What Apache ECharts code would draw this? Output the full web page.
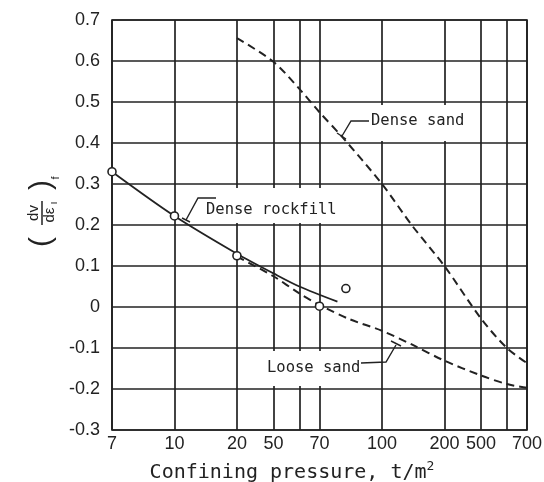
<!DOCTYPE html>
<html>
<head>
<meta charset="utf-8">
<script src="https://cdn.jsdelivr.net/npm/echarts@6/dist/echarts.min.js"></script>
<style>
  html, body { margin: 0; padding: 0; background: #fff; }
  #chart { width: 544px; height: 482px; }
</style>
</head>
<body>
<div id="chart"></div>
<script>
// pressure grid (t/m2) and the labels printed under them
const gridPressures = [5, 10, 20, 30, 40, 50, 100, 200, 300, 400, 500];
const labelPressures = [5, 10, 20, 30, 50, 100, 200, 300, 500];
const labelTexts = ["7", "10", "20", "50", "70", "100", "200", "500", "700"];

// measured points (dense rockfill)
const rockfillPoints = [[5, 0.33], [10, 0.222], [20, 0.125], [50, 0.002], [67, 0.045]];
// fitted curves
const rockfillCurve = [[5, 0.33], [10, 0.222], [20, 0.13], [30, 0.082], [40, 0.05], [61, 0.013]];
const looseSand = [[20, 0.123], [30, 0.075], [40, 0.033], [50, 0.005], [70, -0.03], [100, -0.058],
  [140, -0.092], [200, -0.131], [300, -0.167], [400, -0.188], [500, -0.197]];
const denseSand = [[20, 0.656], [30, 0.598], [40, 0.532], [50, 0.475], [64, 0.416], [100, 0.3],
  [140, 0.198], [200, 0.1], [300, -0.028], [400, -0.1], [500, -0.137]];

const ink = "#222";
const mono = "'DejaVu Sans Mono', monospace";
const sans = "'Liberation Sans', Arial, sans-serif";

const chart = echarts.init(document.getElementById("chart"));

const option = {
  animation: false,
  grid: {
    left: 112, right: 17, top: 20, bottom: 52,
    containLabel: false, outerBoundsMode: "none",
    show: true, borderColor: ink, borderWidth: 1.7
  },
  xAxis: {
    type: "log",
    logBase: 10,
    min: 5,
    max: 500,
    axisLine: { show: false },
    axisTick: { show: false, customValues: gridPressures },
    splitLine: { show: true, lineStyle: { color: ink, width: 1.7 } },
    axisLabel: {
      customValues: labelPressures,
      color: ink,
      fontFamily: sans,
      fontSize: 18,
      margin: 5,
      formatter: (v) => {
        const i = labelPressures.findIndex((p) => Math.abs(p - v) / p < 0.01);
        return i >= 0 ? labelTexts[i] : "";
      }
    },
    name: "Confining pressure, t/m{sup|2}",
    nameLocation: "middle",
    nameGap: 30,
    nameTextStyle: {
      color: ink, fontFamily: mono, fontSize: 20, padding: [0, 0, 0, -55],
      rich: { sup: { fontFamily: mono, fontSize: 13, verticalAlign: "top", padding: [0, 0, 12, 0], color: ink } }
    }
  },
  yAxis: {
    type: "value",
    min: -0.3,
    max: 0.7,
    interval: 0.1,
    axisLine: { show: false },
    axisTick: { show: false },
    splitLine: { show: true, lineStyle: { color: ink, width: 1.7 } },
    axisLabel: {
      color: ink,
      fontFamily: sans,
      fontSize: 18,
      margin: 12,
      formatter: (v) => (Math.abs(v) < 1e-9 ? "0" : v.toFixed(1))
    }
  },
  series: [
    {
      type: "line",
      data: rockfillCurve,
      smooth: 0.3,
      symbol: "none",
      lineStyle: { color: ink, width: 1.8 }
    },
    {
      type: "line",
      data: looseSand,
      smooth: 0.3,
      symbol: "none",
      lineStyle: { color: ink, width: 2, type: [8, 5] }
    },
    {
      type: "line",
      data: denseSand,
      smooth: 0.3,
      symbol: "none",
      lineStyle: { color: ink, width: 2, type: [8, 5] }
    },
    {
      type: "scatter",
      data: rockfillPoints,
      symbol: "circle",
      symbolSize: 8,
      itemStyle: { color: "#fff", borderColor: ink, borderWidth: 1.6, opacity: 1 },
      z: 5
    }
  ],
  graphic: [
    // y-axis title: (dv / dε1)f, rotated
    {
      type: "group",
      x: 42, y: 213, rotation: Math.PI / 2,
      children: [
        { type: "text", style: { text: "(", x: -29, y: 0, font: "30px " + sans, fill: ink, align: "center", verticalAlign: "middle" } },
        { type: "text", style: { text: "dv", x: 0, y: -8, font: "15px " + sans, fill: ink, align: "center", verticalAlign: "middle" } },
        { type: "line", shape: { x1: -12, y1: 0, x2: 12, y2: 0 }, style: { stroke: ink, lineWidth: 1.5 } },
        { type: "text", style: { text: "dε", x: -2, y: 8, font: "15px " + sans, fill: ink, align: "center", verticalAlign: "middle" } },
        { type: "text", style: { text: "ı", x: 10, y: 12, font: "11px " + sans, fill: ink, align: "center", verticalAlign: "middle" } },
        { type: "text", style: { text: ")", x: 28, y: 0, font: "30px " + sans, fill: ink, align: "center", verticalAlign: "middle" } },
        { type: "text", style: { text: "f", x: 35, y: 14, font: "11px " + sans, fill: ink, align: "center", verticalAlign: "middle" } }
      ]
    },
    // label boxes that mask the vertical grid lines
    { type: "rect", shape: { x: 200, y: 188, width: 140, height: 35 }, style: { fill: "#fff" }, z: 50 },
    { type: "rect", shape: { x: 366, y: 105, width: 112, height: 36 }, style: { fill: "#fff" }, z: 50 },
    { type: "rect", shape: { x: 262, y: 351, width: 116, height: 35 }, style: { fill: "#fff" }, z: 50 },
    { type: "text", z: 51, style: { text: "Dense rockfill", x: 206, y: 210, font: "15.5px " + mono, fill: ink, verticalAlign: "middle" } },
    { type: "text", z: 51, style: { text: "Dense sand", x: 371, y: 121, font: "15.5px " + mono, fill: ink, verticalAlign: "middle" } },
    { type: "text", z: 51, style: { text: "Loose sand", x: 267, y: 368, font: "15.5px " + mono, fill: ink, verticalAlign: "middle" } },
    // leaders
    { type: "polyline", z: 51, shape: { points: [[216, 198], [198, 198], [186, 220]] }, style: { stroke: ink, lineWidth: 1.4, fill: null } },
    { type: "line", z: 51, shape: { x1: 182, y1: 218, x2: 190, y2: 222 }, style: { stroke: ink, lineWidth: 1.4 } },
    { type: "polyline", z: 51, shape: { points: [[369, 121], [351, 121], [342, 136]] }, style: { stroke: ink, lineWidth: 1.4, fill: null } },
    { type: "line", z: 51, shape: { x1: 337, y1: 133, x2: 346, y2: 139 }, style: { stroke: ink, lineWidth: 1.4 } },
    { type: "polyline", z: 51, shape: { points: [[361, 363], [386, 362], [396, 345]] }, style: { stroke: ink, lineWidth: 1.4, fill: null } },
    { type: "line", z: 51, shape: { x1: 391, y1: 341, x2: 401, y2: 346 }, style: { stroke: ink, lineWidth: 1.4 } }
  ]
};

chart.setOption(option);
</script>
</body>
</html>
